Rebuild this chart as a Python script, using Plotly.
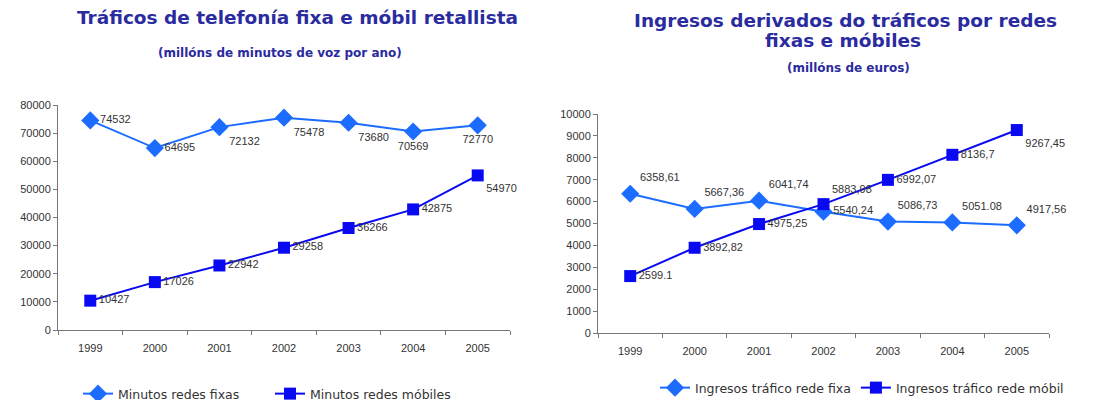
import plotly.graph_objects as go

years = ["1999", "2000", "2001", "2002", "2003", "2004", "2005"]

# left chart: millions of voice minutes per year
minutos_fixas = [74532, 64695, 72132, 75478, 73680, 70569, 72770]
minutos_mobiles = [10427, 17026, 22942, 29258, 36266, 42875, 54970]

# right chart: revenue, millions of euros
ingresos_fixa = [6358.61, 5667.36, 6041.74, 5540.24, 5086.73, 5051.08, 4917.56]
ingresos_mobil = [2599.1, 3892.82, 4975.25, 5883.98, 6992.07, 8136.7, 9267.45]
ingresos_fixa_labels = ["6358,61", "5667,36", "6041,74", "5540,24", "5086,73", "5051.08", "4917,56"]
ingresos_mobil_labels = ["2599.1", "3892,82", "4975,25", "5883,98", "6992,07", "8136,7", "9267,45"]

FIXA = "#1c6cff"
MOBIL = "#0a0af2"
TITLE = "#2b2ba0"
TXT = "#333333"
FONT = "Liberation Sans, Arial, sans-serif"
WIDE = "DejaVu Sans, Verdana, sans-serif"

# page body has an 8px margin, so the figure is 16px smaller than the window
W, H = 1078, 392


def px(x):
    return (x - 8) / W


def py(y):
    return 1 - (y - 8) / H


fig = go.Figure()

fig.add_trace(go.Scatter(
    x=years, y=minutos_fixas, name="Minutos redes fixas",
    mode="lines+markers+text", text=[str(v) for v in minutos_fixas],
    textposition=["middle right", "middle right", "bottom right", "bottom right",
                  "bottom right", "bottom center", "bottom center"],
    line=dict(color=FIXA, width=2), marker=dict(symbol="diamond", size=14, color=FIXA),
    textfont=dict(size=11, color=TXT), cliponaxis=False,
    xaxis="x", yaxis="y", legend="legend",
))
fig.add_trace(go.Scatter(
    x=years, y=minutos_mobiles, name="Minutos redes móbiles",
    mode="lines+markers+text", text=[str(v) for v in minutos_mobiles],
    textposition=["middle right"] * 6 + ["bottom right"],
    line=dict(color=MOBIL, width=2), marker=dict(symbol="square", size=12, color=MOBIL),
    textfont=dict(size=11, color=TXT), cliponaxis=False,
    xaxis="x", yaxis="y", legend="legend",
))
fig.add_trace(go.Scatter(
    x=years, y=ingresos_fixa, name="Ingresos tráfico rede fixa",
    mode="lines+markers+text", text=ingresos_fixa_labels,
    textposition=["top right", "top right", "top right", "middle right",
                  "top right", "top right", "top right"],
    line=dict(color=FIXA, width=2), marker=dict(symbol="diamond", size=14, color=FIXA),
    textfont=dict(size=11, color=TXT), cliponaxis=False,
    xaxis="x2", yaxis="y2", legend="legend2",
))
fig.add_trace(go.Scatter(
    x=years, y=ingresos_mobil, name="Ingresos tráfico rede móbil",
    mode="lines+markers+text", text=ingresos_mobil_labels,
    textposition=["middle right", "middle right", "middle right", "top right",
                  "middle right", "middle right", "bottom right"],
    line=dict(color=MOBIL, width=2), marker=dict(symbol="square", size=12, color=MOBIL),
    textfont=dict(size=11, color=TXT), cliponaxis=False,
    xaxis="x2", yaxis="y2", legend="legend2",
))

xax = dict(type="category", range=[-0.5, 6.5], showline=True, linecolor="#777777",
           linewidth=1, ticks="outside", tickson="boundaries", ticklen=4,
           tickcolor="#777777", showgrid=False, zeroline=False, ticklabelstandoff=8,
           tickfont=dict(size=11, color=TXT))
yax = dict(showline=True, linecolor="#777777", linewidth=1, ticks="outside",
           ticklen=4, tickcolor="#777777", showgrid=False, zeroline=False,
           tickformat="d", tickfont=dict(size=11, color=TXT))

fig.update_layout(
    width=W, height=H,
    margin=dict(l=0, r=0, t=0, b=0, autoexpand=False),
    paper_bgcolor="white", plot_bgcolor="white",
    font=dict(family=FONT, color=TXT),
    xaxis=dict(xax, domain=[px(58), px(510)], anchor="y"),
    yaxis=dict(yax, domain=[py(330), py(105)], range=[0, 80000], dtick=10000, anchor="x"),
    xaxis2=dict(xax, domain=[px(598), px(1049)], anchor="y2"),
    yaxis2=dict(yax, domain=[py(333), py(114)], range=[0, 10000], dtick=1000, anchor="x2"),
    legend=dict(orientation="h", x=px(78), xanchor="left", y=py(394), yanchor="middle",
                entrywidth=147, entrywidthmode="pixels",
                font=dict(size=12.5, color=TXT, family=WIDE), bgcolor="rgba(0,0,0,0)"),
    legend2=dict(orientation="h", x=px(655), xanchor="left", y=py(388), yanchor="middle",
                 font=dict(size=12.5, color=TXT, family=WIDE), bgcolor="rgba(0,0,0,0)"),
    showlegend=True,
)

titles = [
    (297, 18, "Tráficos de telefonía fixa e móbil retallista", 18.5),
    (280, 53, "(millóns de minutos de voz por ano)", 12),
    (845, 20, "Ingresos derivados do tráficos por redes", 18.5),
    (843, 41, "fixas e móbiles", 18.5),
    (848, 68, "(millóns de euros)", 12),
]
for x, y, t, s in titles:
    fig.add_annotation(x=px(x), y=py(y), xref="paper", yref="paper", text=f"<b>{t}</b>",
                       showarrow=False, font=dict(size=s, color=TITLE, family=WIDE),
                       xanchor="center", yanchor="middle")

fig.write_html("out.html")
